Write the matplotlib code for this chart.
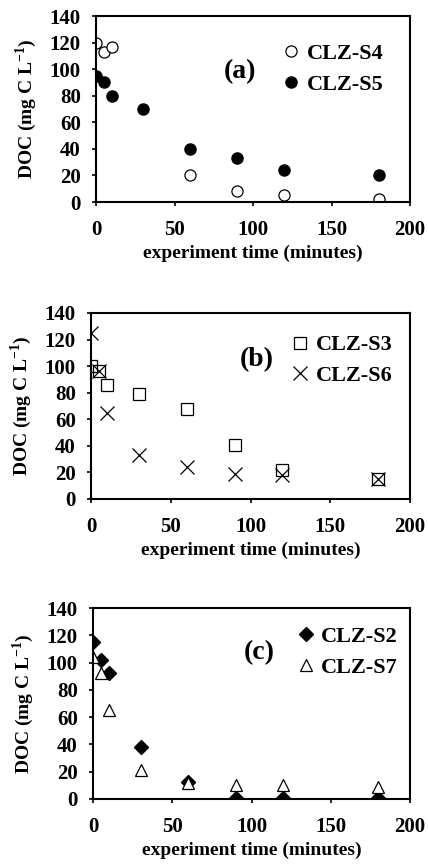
import matplotlib as mpl

mpl.use("agg")

import matplotlib.pyplot as plt

plt.rcParams['font.family'] = ['Liberation Serif', 'DejaVu Serif']
plt.rcParams['font.weight'] = 'bold'
plt.rcParams['mathtext.fontset'] = 'custom'
plt.rcParams['mathtext.rm'] = 'Liberation Serif:bold'
plt.rcParams['mathtext.bf'] = 'Liberation Serif:bold'

# panel (a)
t_s4 = [0, 5, 10, 60, 90, 120, 180]
doc_s4 = [120, 113, 117, 20, 8, 5, 2.5]
t_s5 = [0, 5, 10, 30, 60, 90, 120, 180]
doc_s5 = [95, 90, 80, 70, 40, 33, 24, 20.5]

# panel (b)
t_b = [0, 5, 10, 30, 60, 90, 120, 180]
doc_s3 = [100, 96, 86, 79, 68, 41, 22, 15]
doc_s6 = [125, 96, 65, 33, 24, 19, 18, 15]

# panel (c)
t_c = [0, 5, 10, 30, 60, 90, 120, 180]
doc_s2 = [115, 102, 92, 38, 12.5, 0.5, 0.5, 0.5]
doc_s7 = [104, 92, 65, 21, 12, 10, 10, 9]

W, H = 428, 867
fig = plt.figure(figsize=(W / 100, H / 100), dpi=100)


def make_axes(left, right, top, bottom):
    return fig.add_axes([left / W, 1 - bottom / H, (right - left) / W, (bottom - top) / H])


axes = [
    make_axes(96, 410, 16, 202),
    make_axes(91, 410, 313, 499),
    make_axes(93, 410, 608, 799),
]

ax = axes[0]
ax.plot(t_s4, doc_s4, 'o', mfc='white', mec='black', mew=0.9, ms=8, label='CLZ-S4')
ax.plot(t_s5, doc_s5, 'o', mfc='black', mec='black', ms=8, label='CLZ-S5')

ax = axes[1]
ax.plot(t_b, doc_s3, 's', mfc='none', mec='black', mew=0.9, ms=8, label='CLZ-S3')
ax.plot(t_b, doc_s6, 'x', color='black', mew=0.9, ms=10, label='CLZ-S6')

ax = axes[2]
ax.plot(t_c, doc_s2, 'D', mfc='black', mec='black', ms=7, label='CLZ-S2')
ax.plot(t_c, doc_s7, '^', mfc='white', mec='black', mew=0.9, ms=9, label='CLZ-S7')

tags = ['(a)', '(b)', '(c)']
tag_pos = [(0.46, 0.70), (0.52, 0.747), (0.524, 0.764)]
leg_anchor = [(0.943, 0.90), (0.973, 0.93), (0.99, 0.95)]

for ax, tag, tp, la in zip(axes, tags, tag_pos, leg_anchor):
    ax.set_xlim(0, 200)
    ax.set_ylim(0, 140)
    ax.set_xticks([0, 50, 100, 150, 200])
    ax.set_yticks(range(0, 141, 20))
    for s in ax.spines.values():
        s.set_linewidth(1.5)
    ax.tick_params(direction='out', length=3, width=1.2, labelsize=15)
    ax.tick_params(axis='y', pad=8)
    ax.tick_params(axis='x', pad=10)
    for lab in ax.get_xticklabels() + ax.get_yticklabels():
        lab.set_fontweight('bold')
    ax.set_xlabel('experiment time (minutes)', fontsize=14, fontweight='bold', labelpad=3)
    ax.set_ylabel(r'DOC (mg C L$^{\mathbf{-1}}$)', fontsize=14, fontweight='bold', labelpad=7.5)
    ax.text(tp[0], tp[1], tag, transform=ax.transAxes, fontsize=20, fontweight='bold', ha='center', va='center')
    ax.legend(loc='upper right', bbox_to_anchor=la, frameon=False, handlelength=0.8,
              handletextpad=0.3, borderaxespad=0, labelspacing=0.45,
              prop={'family': 'Liberation Serif', 'weight': 'bold', 'size': 16})

plt.savefig("out.png", dpi=100)
